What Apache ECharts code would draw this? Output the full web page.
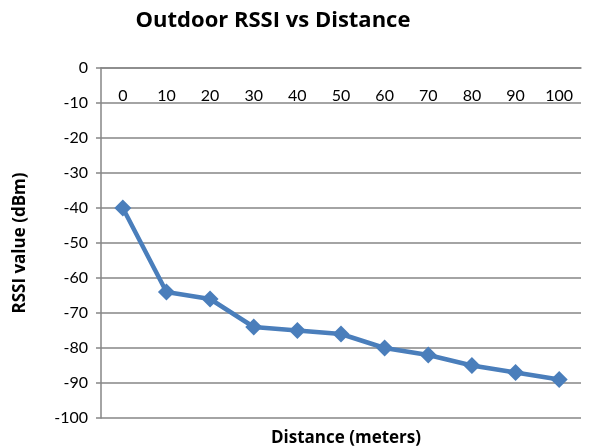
<!DOCTYPE html>
<html>
<head>
<meta charset="utf-8">
<script src="https://cdn.jsdelivr.net/npm/echarts@6/dist/echarts.min.js"></script>
<style>
  html, body { margin: 0; padding: 0; background: #fff; }
  #chart { width: 590px; height: 448px; }
</style>
</head>
<body>
<div id="chart"></div>
<script>
var distances = ['0', '10', '20', '30', '40', '50', '60', '70', '80', '90', '100'];
var rssi = [-40, -64, -66, -74, -75, -76, -80, -82, -85, -87, -89];

(function() {
  var font = 'Lato, "Open Sans", sans-serif';
  var boldFont = '"Open Sans", Lato, sans-serif';
  var gray = '#868686';
  var blue = '#4a7ebb';

  var chart = echarts.init(document.getElementById('chart'), null, { renderer: 'canvas' });
  chart.setOption({
    animation: false,
    backgroundColor: '#fff',
    textStyle: { fontFamily: font },
    title: [
      {
        text: 'Outdoor RSSI vs Distance',
        left: 268,
        top: 5,
        textAlign: 'center',
        textStyle: { fontFamily: boldFont, fontSize: 22, fontWeight: 'bold', color: '#000' }
      },
      {
        text: 'Distance (meters)',
        left: 341,
        top: 425,
        textAlign: 'center',
        textStyle: { fontFamily: boldFont, fontSize: 17, fontWeight: 'bold', color: '#000' }
      }
    ],
    grid: { left: 101, right: 9, top: 68, bottom: 30 },
    xAxis: {
      type: 'category',
      position: 'top',
      data: distances,
      boundaryGap: true,
      axisLine: { lineStyle: { color: gray, width: 1.5 } },
      axisTick: { show: false },
      axisLabel: { inside: true, margin: 20, color: '#000', fontSize: 16, fontFamily: font }
    },
    yAxis: {
      type: 'value',
      min: -100,
      max: 0,
      interval: 10,
      name: 'RSSI value (dBm)',
      nameLocation: 'middle',
      nameRotate: 90,
      nameGap: 72,
      nameTextStyle: { fontFamily: boldFont, fontSize: 17, fontWeight: 'bold', color: '#000' },
      axisLine: { show: true, lineStyle: { color: gray, width: 1.5 } },
      axisTick: { show: true, length: 5, lineStyle: { color: gray, width: 1.5 } },
      axisLabel: { color: '#000', fontSize: 16, margin: 13, fontFamily: font },
      splitLine: { lineStyle: { color: gray, width: 1.5 } }
    },
    series: [
      {
        type: 'line',
        data: rssi,
        symbol: 'diamond',
        symbolSize: 17,
        lineStyle: { color: blue, width: 4.5 },
        itemStyle: { color: blue }
      }
    ]
  });
})();
</script>
</body>
</html>
